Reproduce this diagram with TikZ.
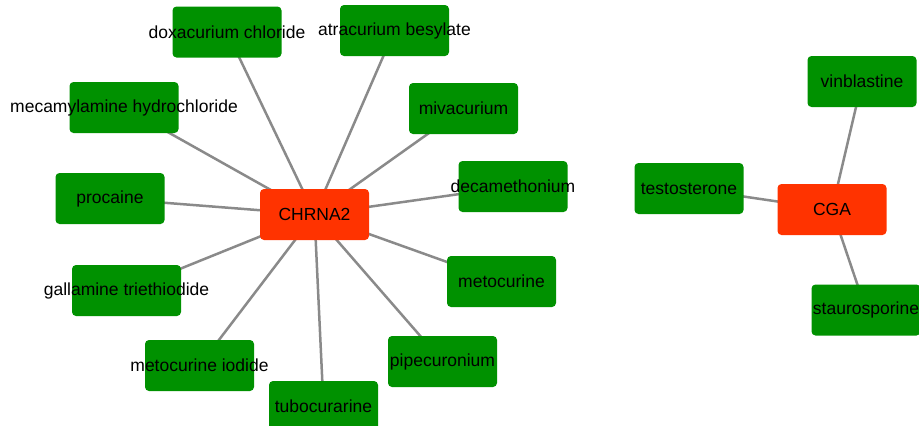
\documentclass[tikz,border=0pt]{standalone}
\usepackage{fontspec}
\setmainfont{Liberation Sans}
\usepackage{tikz}
\usetikzlibrary{positioning}
\definecolor{drug}{HTML}{009100}
\definecolor{gene}{HTML}{FF3300}
\definecolor{link}{HTML}{8A8A8A}
\newcommand{\nm}[1]{\makebox[0pt]{#1}}
\pgfdeclarelayer{bg}
\pgfsetlayers{bg,main}

\begin{document}
\begin{tikzpicture}[x=1pt,y=-1pt,
  drugbox/.style={fill=drug,rounded corners=4pt,minimum width=109pt,minimum height=51pt,inner sep=0pt,font=\fontsize{17.5}{20}\selectfont},
  genebox/.style={drugbox,fill=gene},
  edge/.style={draw=link,line width=2.5pt}]
  \clip (0,0) rectangle (919,426);
  % CHRNA2 cluster
  \node[genebox] (chrna) at (314.5,214.5) {\nm{CHRNA2}};
  \node[drugbox] (dox) at (227,32) {\nm{doxacurium chloride}};
  \node[drugbox] (atra) at (394.5,30.5) {\nm{atracurium besylate}};
  \node[drugbox] (mecam) at (124,107.5) {\nm{mecamylamine hydrochloride}};
  \node[drugbox] (miva) at (463.5,108.5) {\nm{mivacurium}};
  \node[drugbox] (proc) at (110,198.5) {\nm{procaine}};
  \node[drugbox] (deca) at (513,186.5) {\nm{decamethonium}};
  \node[drugbox] (gall) at (126.5,290.5) {\nm{gallamine triethiodide}};
  \node[drugbox] (meto) at (501.5,281.5) {\nm{metocurine}};
  \node[drugbox] (metoi) at (199.5,365.5) {\nm{metocurine iodide}};
  \node[drugbox] (pipe) at (442.5,361.5) {\nm{pipecuronium}};
  \node[drugbox] (tubo) at (323.5,406.5) {\nm{tubocurarine}};
  % CGA cluster
  \node[genebox] (cga) at (832,209.5) {\nm{CGA}};
  \node[drugbox] (testo) at (689,188.5) {\nm{testosterone}};
  \node[drugbox] (vinb) at (862,81.5) {\nm{vinblastine}};
  \node[drugbox] (stau) at (866,310) {\nm{staurosporine}};
  \begin{pgfonlayer}{bg}
    \foreach \d in {dox,atra,mecam,miva,proc,deca,gall,meto,metoi,pipe,tubo}
      \draw[edge] (chrna.center) -- (\d.center);
    \foreach \d in {testo,vinb,stau}
      \draw[edge] (cga.center) -- (\d.center);
  \end{pgfonlayer}
\end{tikzpicture}
\end{document}
